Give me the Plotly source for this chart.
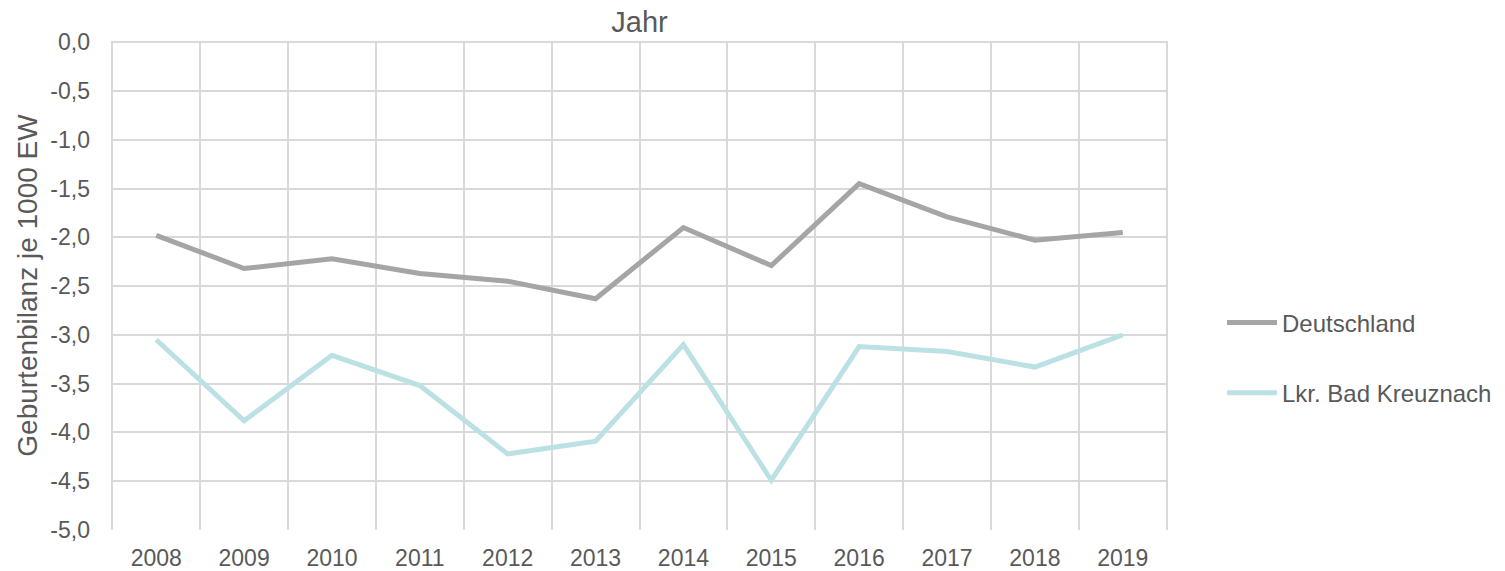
import plotly.graph_objects as go

years = ["2008", "2009", "2010", "2011", "2012", "2013", "2014", "2015", "2016", "2017", "2018", "2019"]
deutschland = [-1.98, -2.32, -2.22, -2.37, -2.45, -2.63, -1.90, -2.29, -1.45, -1.79, -2.03, -1.95]
bad_kreuznach = [-3.05, -3.88, -3.21, -3.52, -4.22, -4.09, -3.10, -4.49, -3.12, -3.17, -3.33, -3.00]
y_ticks = [0.0, -0.5, -1.0, -1.5, -2.0, -2.5, -3.0, -3.5, -4.0, -4.5, -5.0]
y_tick_labels = ["0,0", "-0,5", "-1,0", "-1,5", "-2,0", "-2,5", "-3,0", "-3,5", "-4,0", "-4,5", "-5,0"]

txt = "#595959"
grid = "#D9D9D9"
font = "Liberation Sans, Arial, sans-serif"

fig = go.Figure()
fig.add_trace(go.Scatter(x=years, y=deutschland, mode="lines", name="Deutschland", legendgroup="a",
                         line=dict(color="#A5A5A5", width=5)))
fig.add_trace(go.Scatter(x=years, y=bad_kreuznach, mode="lines", name="Lkr. Bad Kreuznach", legendgroup="b",
                         line=dict(color="#BCE1E4", width=5)))

fig.update_layout(
    width=1505, height=571,
    paper_bgcolor="white", plot_bgcolor="white",
    margin=dict(l=111, r=337, t=41, b=41),
    font=dict(family=font, size=23, color=txt),
    title=dict(text="Jahr", x=(112 + 1167) / 2 / 1505, xanchor="center", xref="container",
               y=1 - 22 / 571, yanchor="middle", font=dict(size=29, color=txt)),
    xaxis=dict(type="category", tickson="boundaries", range=[-0.515, 11.515], showgrid=True,
               gridcolor=grid, gridwidth=2, showline=False, zeroline=False, ticks="",
               tickfont=dict(size=23, color=txt), ticklabelstandoff=12, automargin=False),
    yaxis=dict(range=[-5.0, 0.012], tickvals=y_ticks, ticktext=y_tick_labels, showgrid=True,
               gridcolor=grid, gridwidth=2, zeroline=False, showline=False, ticks="",
               tickfont=dict(size=23, color=txt), ticklabelstandoff=20, automargin=False,
               title=dict(text="Geburtenbilanz je 1000 EW", font=dict(size=28, color=txt), standoff=4)),
    legend=dict(xref="container", yref="container", x=1222 / 1505, xanchor="left",
                y=1 - 358 / 571, yanchor="middle", font=dict(size=24, color=txt),
                tracegroupgap=36, itemwidth=50, bgcolor="rgba(0,0,0,0)"),
)

fig.write_html("out.html", config={"displayModeBar": False},
               post_script="document.body.style.margin='0';document.body.style.overflow='hidden';")
